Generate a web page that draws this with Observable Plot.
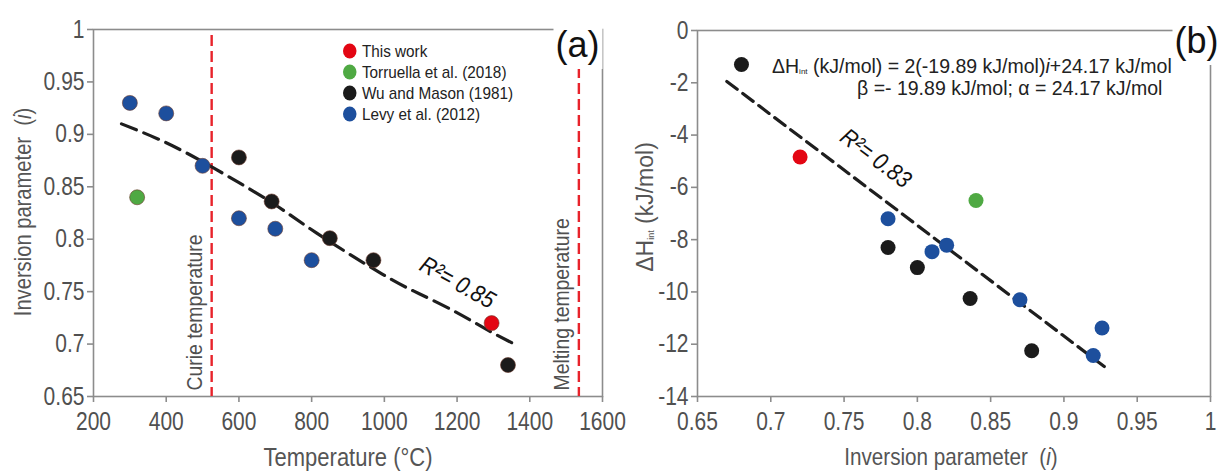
<!DOCTYPE html>
<html><head><meta charset="utf-8">
<script src="https://cdn.jsdelivr.net/npm/d3@7"></script>
<script src="https://cdn.jsdelivr.net/npm/@observablehq/plot@0.6"></script>
<style>
body{margin:0;background:#fff;}
#wrap{position:relative;width:1221px;height:472px;overflow:hidden;font-family:"Liberation Sans",Arial,sans-serif;}
#wrap svg{position:absolute;top:0;}
.ov{position:absolute;white-space:nowrap;line-height:1;}
.title{font-size:25px;color:#555;transform:translate(-50%,-50%) scaleX(0.88);}
.title2{font-size:24px;color:#555;transform:translate(-50%,-50%) scaleX(0.86);}
.vtitle{font-size:24px;color:#555;transform:translate(-50%,-50%) rotate(-90deg) scaleX(0.84);}
.vtitle2{font-size:23px;color:#555;transform:translate(-50%,-50%) rotate(-90deg);}
.panel{font-size:36px;color:#111;background:#fff;padding:6px 3px 6px 2px;transform:translate(-50%,-50%);}
.leg{font-size:17px;color:#222;display:flex;align-items:center;transform:translateY(-50%) scaleX(0.9);transform-origin:0 50%;}
.leg span.c{display:inline-block;width:15px;height:15px;border-radius:50%;margin-right:6px;}
.ann{font-size:19.5px;color:#222;transform:translateY(-50%);}
sub{font-size:8px;vertical-align:-1px;}
.vtitle2 sub{font-size:9px;}
</style></head>
<body><div id="wrap"></div>
<script>
// ---------- data ----------
const seriesNames = ["This work", "Torruella et al. (2018)", "Wu and Mason (1981)", "Levy et al. (2012)"];
const seriesColors = ["#e30613", "#4fa943", "#1b1b1b", "#1d4f9d"];

// panel (a): temperature (°C) vs inversion parameter
const thisWorkT = [1295];
const thisWorkI = [0.72];
const torruellaT = [320];
const torruellaI = [0.84];
const wuT = [600, 690, 850, 970, 1340];
const wuI = [0.878, 0.836, 0.801, 0.780, 0.680];
const levyT = [300, 400, 500, 600, 700, 800];
const levyI = [0.93, 0.92, 0.87, 0.82, 0.81, 0.78];
const fitAT = [277, 400, 530, 690, 813, 993, 1096, 1194, 1281, 1363];
const fitAI = [0.910, 0.892, 0.868, 0.835, 0.806, 0.767, 0.748, 0.731, 0.714, 0.699];
const refTemps = [525, 1535];
const refTempNames = ["Curie temperature", "Melting temperature"];
const xTicksA = [200, 400, 600, 800, 1000, 1200, 1400, 1600];
const yTicksA = [0.65, 0.7, 0.75, 0.8, 0.85, 0.9, 0.95, 1];

// panel (b): inversion parameter vs ΔH_int (kJ/mol)
const thisWorkBi = [0.72];
const thisWorkBH = [-4.84];
const torruellaBi = [0.84];
const torruellaBH = [-6.5];
const wuBi = [0.68, 0.78, 0.80, 0.836, 0.878];
const wuBH = [-1.3, -8.3, -9.07, -10.25, -12.25];
const levyBi = [0.78, 0.81, 0.82, 0.87, 0.92, 0.926];
const levyBH = [-7.2, -8.46, -8.21, -10.3, -12.43, -11.38];
const fitBi = [0.670, 0.931];
const fitBH = [-1.95, -13.0];
const xTicksB = [0.65, 0.7, 0.75, 0.8, 0.85, 0.9, 0.95, 1];
const yTicksB = [0, -2, -4, -6, -8, -10, -12, -14];

// ---------- build ----------
const fontFam = '"Liberation Sans",Arial,sans-serif';
const zip = (xs, ys) => xs.map((x, k) => ({x, y: ys[k]}));
const seriesA = [zip(thisWorkT, thisWorkI), zip(torruellaT, torruellaI), zip(wuT, wuI), zip(levyT, levyI)];
const seriesB = [zip(thisWorkBi, thisWorkBH), zip(torruellaBi, torruellaBH), zip(wuBi, wuBH), zip(levyBi, levyBH)];
const axisCol = "#8c8c8c", labCol = "#505050";
const fmt = d => String(d);

const dotsA = seriesA.map((s, k) => Plot.dot(s, {x: "x", y: "y", r: 7.5, fill: seriesColors[k], stroke: "#6b3a2e", strokeWidth: 0.6}));
const dotsB = seriesB.map((s, k) => Plot.dot(s, {x: "x", y: "y", r: 7.5, fill: seriesColors[k]}));

const left = Plot.plot({
  width: 610, height: 472, marginLeft: 93, marginRight: 8, marginTop: 29, marginBottom: 76,
  style: {fontFamily: fontFam, fontSize: "25px", background: "transparent", overflow: "visible"},
  x: {domain: [200, 1600]}, y: {domain: [0.65, 1]},
  marks: [
    Plot.frame({stroke: axisCol, strokeWidth: 1.6}),
    Plot.axisX({ticks: xTicksA, tickFormat: fmt, tickSize: 6, tickPadding: 10, label: null, stroke: axisCol, fill: labCol, strokeWidth: 1.6}),
    Plot.axisY({ticks: yTicksA, tickFormat: fmt, tickSize: 6, tickPadding: 3, label: null, stroke: axisCol, fill: labCol, strokeWidth: 1.6}),
    Plot.ruleX(refTemps, {stroke: "#e8232b", strokeWidth: 2.4, strokeDasharray: "11,5", insetTop: 6}),
    Plot.text(refTemps, {x: d => d, text: (d, k) => refTempNames[k], frameAnchor: "bottom", rotate: -90, textAnchor: "start", lineAnchor: "middle", dx: -17, dy: -6, fontSize: 22, fill: labCol}),
    Plot.line(zip(fitAT, fitAI), {x: "x", y: "y", curve: "natural", stroke: "#1e1e1e", strokeWidth: 3.2, strokeDasharray: "16,8"}),
    Plot.text(["R²= 0.85"], {x: 1201, y: 0.7586, rotate: 29, fontSize: 24, fontStyle: "italic", fill: "#111"}),
    ...dotsA
  ]
});
left.style.left = "0px";

const right = Plot.plot({
  width: 611, height: 472, marginLeft: 87, marginRight: 11, marginTop: 30, marginBottom: 76,
  style: {fontFamily: fontFam, fontSize: "25px", background: "transparent", overflow: "visible"},
  x: {domain: [0.65, 1]}, y: {domain: [-14, 0]},
  marks: [
    Plot.frame({stroke: axisCol, strokeWidth: 1.6}),
    Plot.axisX({ticks: xTicksB, tickFormat: fmt, tickSize: 6, tickPadding: 10, label: null, stroke: axisCol, fill: labCol, strokeWidth: 1.6}),
    Plot.axisY({ticks: yTicksB, tickFormat: fmt, tickSize: 6, tickPadding: 3, label: null, stroke: axisCol, fill: labCol, strokeWidth: 1.6}),
    Plot.line(zip(fitBi, fitBH), {x: "x", y: "y", stroke: "#1e1e1e", strokeWidth: 3.2, strokeDasharray: "13,7"}),
    Plot.text(["R²= 0.83"], {x: 0.7716, y: -4.89, rotate: 37, fontSize: 24, fontStyle: "italic", fill: "#111"}),
    ...dotsB
  ]
});
right.style.left = "610px";

const wrap = document.getElementById("wrap");
wrap.appendChild(left);
wrap.appendChild(right);

// condensed look: compress SVG text horizontally
function squeeze(svg) {
  svg.querySelectorAll("text").forEach(t => {
    const s = t.textContent;
    let f = 0.84;
    if (/temperature/.test(s)) f = 0.88;
    else if (/^R/.test(s)) f = 0.88;
    const L = t.getComputedTextLength();
    if (L > 0) {
      t.setAttribute("textLength", (L * f).toFixed(2));
      t.setAttribute("lengthAdjust", "spacingAndGlyphs");
    }
  });
}
squeeze(left);
squeeze(right);

function ov(cls, html, x, y) {
  const d = document.createElement("div");
  d.className = "ov " + cls;
  d.innerHTML = html;
  d.style.left = x + "px";
  d.style.top = y + "px";
  wrap.appendChild(d);
  return d;
}
// axis titles
ov("title", "Temperature (°C)", 348, 457);
ov("title2", "Inversion parameter &nbsp;(<i>i</i>)", 951, 457);
ov("vtitle", "Inversion parameter &nbsp;(<i>i</i>)", 23, 212);
ov("vtitle2", "ΔH<sub>int</sub> (kJ/mol)", 645, 207);
// legend
seriesNames.forEach((n, k) => {
  ov("leg", `<span class="c" style="background:${seriesColors[k]}"></span>${n}`, 343, 51 + k * 21);
});
// equation annotation
ov("ann", "ΔH<sub>int</sub> (kJ/mol) = 2(-19.89 kJ/mol)<i>i</i>+24.17 kJ/mol", 772, 67);
ov("ann", "β =- 19.89 kJ/mol; α = 24.17 kJ/mol", 857, 89);
// panel letters
ov("panel", "(a)", 578, 45);
ov("panel", "(b)", 1197, 41);
</script></body></html>
